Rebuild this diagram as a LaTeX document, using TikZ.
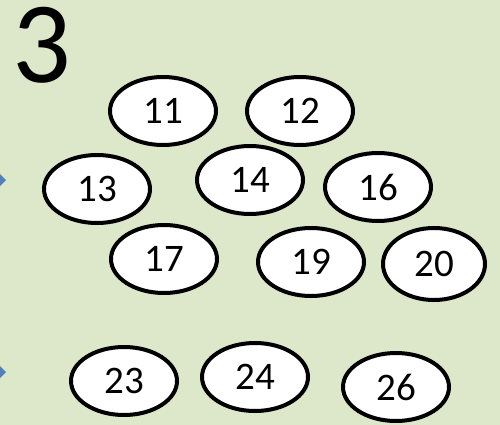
\documentclass[tikz,border=0pt]{standalone}
\usepackage{fontspec}
\setmainfont{Carlito}
\usetikzlibrary{shapes.geometric}
\definecolor{bggreen}{RGB}{221,231,201}
\definecolor{bulletblue}{RGB}{79,129,189}
\begin{document}
\begin{tikzpicture}[x=1pt,y=-1pt,
  num/.style={ellipse,draw,line width=4pt,fill=white,minimum width=106pt,
    minimum height=68pt,inner sep=0pt,font=\fontsize{39}{44}\selectfont}]
\fill[bggreen] (0,0) rectangle (500,425);
\path[use as bounding box] (0,0) rectangle (500,425);
\begin{scope}
\clip (0,0) rectangle (500,425);
\fill[bulletblue] (6,180) -- (0,174) -- (-6,180) -- (0,186) -- cycle;
\fill[bulletblue] (6,372) -- (-1,365) -- (-8,372) -- (-1,379) -- cycle;
\end{scope}
\node[anchor=base west,inner sep=0pt,font=\fontsize{116}{120}\selectfont] (big) at (12,83) {3};
% upper group
\node[num] (n11) at (163,111) {11};
\node[num] (n12) at (300,111) {12};
\node[num] (n13) at (97,189) {13};
\node[num] (n14) at (250,180) {14};
\node[num] (n16) at (378,187) {16};
\node[num] (n17) at (164,259) {17};
\node[num] (n19) at (311,262) {19};
\node[num,minimum width=102pt,minimum height=72pt] (n20) at (434,264) {20};
% lower row
\node[num] (n23) at (124,381) {23};
\node[num] (n24) at (255,377) {24};
\node[num] (n26) at (396,387) {26};
\end{tikzpicture}
\end{document}
